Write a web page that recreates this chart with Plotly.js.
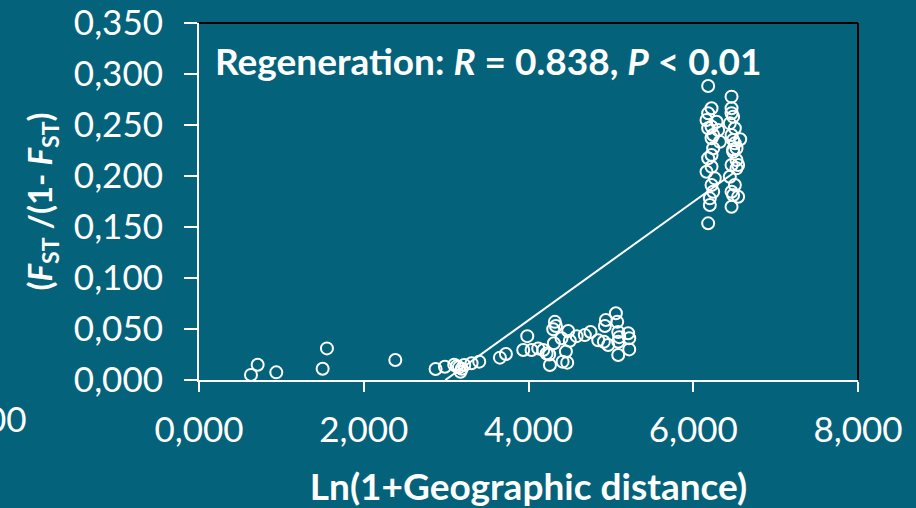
<!DOCTYPE html>
<html>
<head>
<meta charset="utf-8">
<script src="https://cdn.plot.ly/plotly-3.0.1.min.js"></script>
<style>html,body{margin:0;padding:0;background:#04627B;}#chart{width:916px;height:508px;}</style>
</head>
<body>
<div id="chart"></div>
<script>
// Ln(1+Geographic distance) values
const distX = [
  631, 712, 938, 1501, 1553, 2383,
  2872, 2985, 3098, 3130, 3155, 3175, 3190, 3220, 3309, 3402, 3653, 3726,
  3936, 3985, 4037, 4118, 4179, 4220, 4251, 4260, 4308, 4320, 4333, 4300, 4401, 4414, 4454, 4470, 4482, 4502,
  4584, 4684, 4753, 4846, 4915, 4967, 4939, 4927, 5061, 5077, 5089, 5101, 5089, 5089, 5210, 5223, 5223,
  6222, 6181, 6161, 6283, 6222, 6181, 6302, 6242, 6222, 6323, 6242, 6222, 6181, 6222, 6161, 6262, 6222, 6242, 6201, 6201, 6181, 6181,
  6465, 6465, 6465, 6484, 6444, 6505, 6465, 6484, 6505, 6525, 6484, 6525, 6465, 6525, 6545, 6444, 6505, 6465, 6484, 6545, 6465, 6484, 6570, 6560
];
// FST/(1-FST) values
const fstY = [
  0.005, 0.015, 0.0075, 0.011, 0.031, 0.0196,
  0.0108, 0.013, 0.015, 0.0135, 0.0124, 0.0081, 0.011, 0.0147, 0.0164, 0.018, 0.0219, 0.0255,
  0.0294, 0.043, 0.0294, 0.031, 0.0294, 0.026, 0.025, 0.0147, 0.036, 0.057, 0.053, 0.0497, 0.041, 0.018, 0.028, 0.017, 0.048, 0.0385,
  0.043, 0.044, 0.047, 0.039, 0.0375, 0.0343, 0.0588, 0.053, 0.0654, 0.057, 0.047, 0.042, 0.0375, 0.0245, 0.0458, 0.041, 0.030,
  0.2664, 0.2615, 0.2549, 0.2532, 0.2483, 0.2468, 0.2451, 0.2402, 0.2370, 0.2336, 0.2272, 0.2206, 0.2174, 0.2091, 0.2042, 0.1977, 0.1912, 0.1846, 0.1781, 0.1716, 0.1536,
  0.2882, 0.2778, 0.2664, 0.2615, 0.2582, 0.2516, 0.2468, 0.2402, 0.2353, 0.2320, 0.2272, 0.2238, 0.2157, 0.2108, 0.2075, 0.2108, 0.1993, 0.1912, 0.1846, 0.1814, 0.1797, 0.1699, 0.226, 0.236
];
// Linear trend line endpoints
const trendX = [2990, 6480];
const trendY = [0, 0.2025];

const xTickVals = [0, 2000, 4000, 6000, 8000];
const xTickText = ['0,000', '2,000', '4,000', '6,000', '8,000'];
const yTickVals = [0, 0.05, 0.10, 0.15, 0.20, 0.25, 0.30, 0.35];
const yTickText = ['0,000', '0,050', '0,100', '0,150', '0,200', '0,250', '0,300', '0,350'];

const FONT = 'Lato, "Open Sans", sans-serif';
const BG = '#04627B';

const traces = [
  {
    x: trendX, y: trendY, type: 'scatter', mode: 'lines',
    line: {color: 'white', width: 2}, hoverinfo: 'skip', showlegend: false
  },
  {
    x: distX, y: fstY, type: 'scatter', mode: 'markers',
    marker: {symbol: 'circle-open', size: 12, color: 'white', line: {width: 2, color: 'white'}},
    showlegend: false
  }
];

const layout = {
  width: 916, height: 508,
  margin: {l: 199, r: 58, t: 23, b: 128, pad: 0},
  paper_bgcolor: BG, plot_bgcolor: BG,
  font: {family: FONT, color: 'white'},
  showlegend: false,
  xaxis: {
    range: [0, 8000], tickvals: xTickVals, ticktext: xTickText,
    showgrid: false, zeroline: false,
    showline: true, linecolor: 'white', linewidth: 2,
    ticks: 'outside', ticklen: 10, tickwidth: 2, tickcolor: 'white',
    ticklabelstandoff: 8,
    tickfont: {family: FONT, size: 35, color: 'white'},
    automargin: false,
    title: {text: 'Ln(1+Geographic distance)', font: {family: FONT, size: 37, color: 'white', weight: 'bold'}, standoff: 28}
  },
  yaxis: {
    range: [0, 0.35], tickvals: yTickVals, ticktext: yTickText,
    showgrid: false, zeroline: false,
    showline: true, linecolor: 'white', linewidth: 2,
    ticks: 'outside', ticklen: 13, tickwidth: 2, tickcolor: 'white',
    ticklabelstandoff: 14,
    tickfont: {family: FONT, size: 35, color: 'white'},
    automargin: false,
    title: {text: '(<i>F</i><sub>ST</sub> /(1- <i>F</i><sub>ST</sub>)', font: {family: FONT, size: 33, color: 'white', weight: 'bold'}, standoff: 11}
  },
  shapes: [
    {type: 'line', xref: 'paper', yref: 'paper', x0: 0, x1: 1, y0: 1, y1: 1, line: {color: 'black', width: 2}},
    {type: 'line', xref: 'paper', yref: 'paper', x0: 1, x1: 1, y0: 0, y1: 1, line: {color: 'black', width: 2}}
  ],
  annotations: [
    {
      xref: 'paper', yref: 'paper', x: 0.022, y: 0.896, xanchor: 'left', yanchor: 'middle',
      text: 'Regeneration: <i>R</i> = 0.838, <i>P</i> &lt; 0.01', showarrow: false,
      font: {family: FONT, size: 37, color: 'white', weight: 'bold'}
    },
    {
      xref: 'paper', yref: 'paper', x: -0.258, y: -0.106, xanchor: 'right', yanchor: 'middle',
      text: '00', showarrow: false,
      font: {family: FONT, size: 35, color: 'white'}
    }
  ]
};

Plotly.newPlot('chart', traces, layout, {displayModeBar: false, staticPlot: true});
</script>
</body>
</html>
